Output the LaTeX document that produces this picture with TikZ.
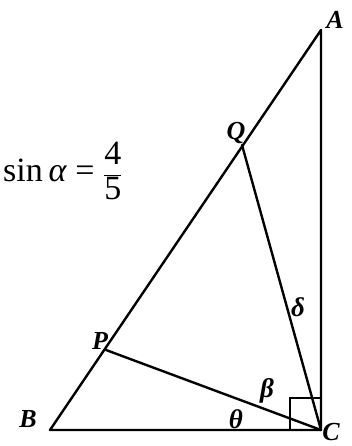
\documentclass[tikz,border=0pt]{standalone}
\usepackage{fontspec}
\setmainfont{Liberation Serif}
\usepackage{tikz}
\usetikzlibrary{calc}

\tikzset{
  edge/.style={line width=2.4pt, line cap=round, line join=round},
  ptlabel/.style={font=\fontsize{26}{29}\selectfont\bfseries\itshape, inner sep=0pt},
  anglabel/.style={font=\fontsize{27}{30}\selectfont\bfseries\itshape, inner sep=0pt}
}

\begin{document}
\begin{tikzpicture}[x=1pt, y=-1pt]
\useasboundingbox (0,0) rectangle (352,446);
% points
\coordinate (A) at (321,30);
\coordinate (B) at (50,430);
\coordinate (C) at (321,430);
\coordinate (P) at (106,350);
\coordinate (Q) at (242,145);
% triangle and cevians
\draw[edge] (B) -- (A) -- (C) -- cycle;
\draw[edge] (P) -- (C);
\draw[edge] (Q) -- (C);
% right angle mark
\draw[line width=2pt] ($(C)+(-31,0)$) |- ($(C)+(0,-32)$);
% labels
\node[ptlabel] (lA) at (335,20) {A};
\node[ptlabel] (lQ) at (236,133) {Q};
\node[ptlabel] (lP) at (100,341) {P};
\node[ptlabel] (lB) at (28,419) {B};
\node[ptlabel] (lC) at (331,432) {C};
\node[anglabel] (lth) at (236,419) {θ};
\node[anglabel] (lbe) at (267,391) {β};
\node[anglabel] (lde) at (298,307) {δ};
\node[inner sep=0pt, anchor=west, font=\fontsize{34}{37}\selectfont] (sin) at (3,171)
  {sin\,\textit{α} = $\displaystyle\frac{\textrm{4}}{\textrm{5}}$};
\end{tikzpicture}
\end{document}
